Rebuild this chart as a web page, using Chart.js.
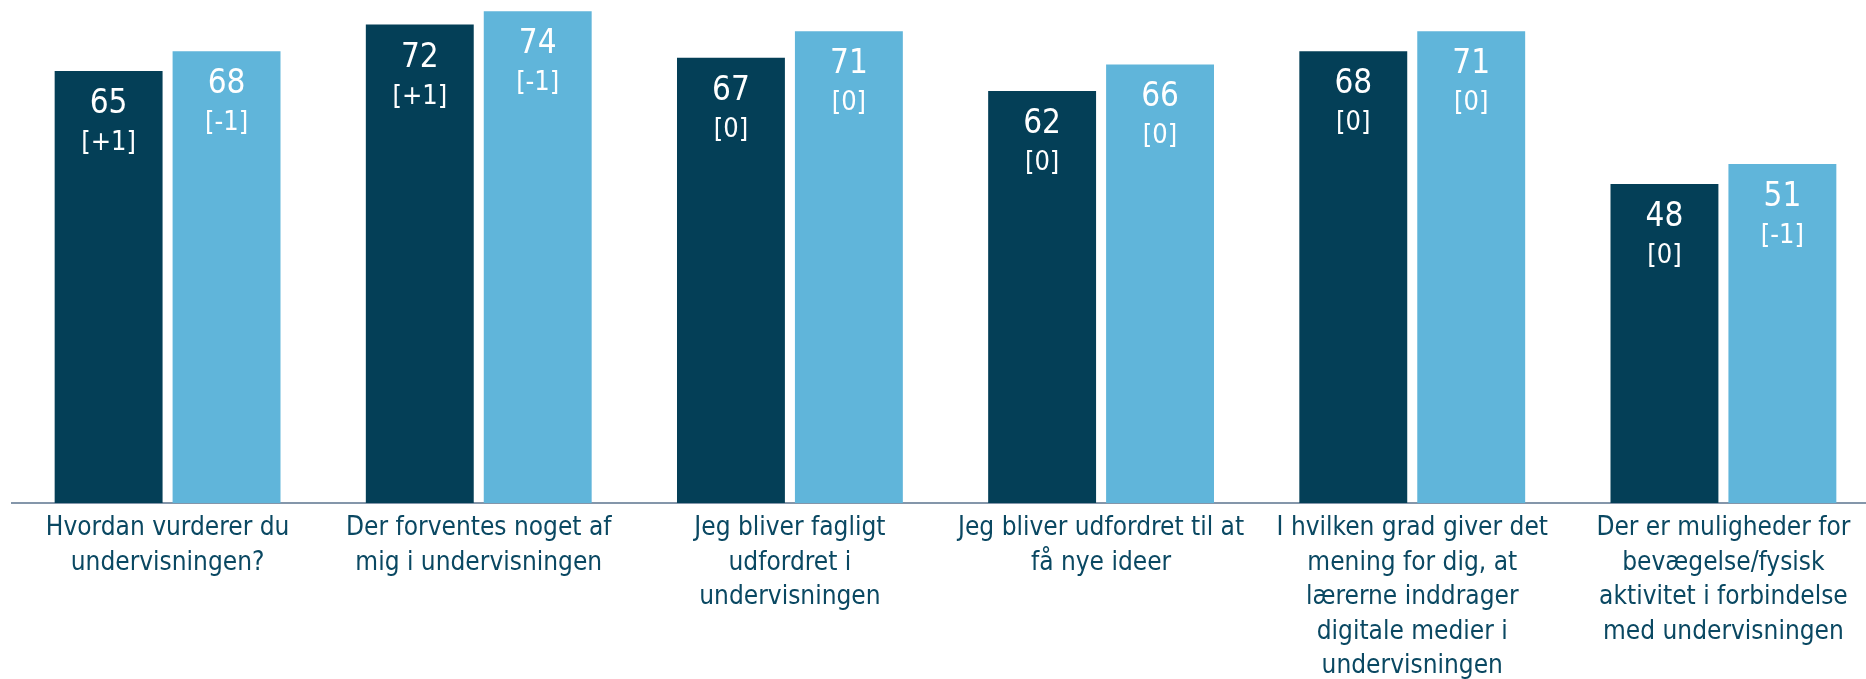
<!DOCTYPE html>
<html lang="da">
<head>
<meta charset="utf-8">
<title>Undervisning</title>
<script src="https://cdn.jsdelivr.net/npm/chart.js@4/dist/chart.umd.min.js"></script>
<style>
  html, body { margin: 0; padding: 0; background: #ffffff; overflow: hidden; }
  #ramme { width: 1866px; height: 679px; overflow: hidden; }
</style>
</head>
<body>
<div id="ramme"><canvas id="grafik" width="1880" height="679"></canvas></div>
<script>
// Spørgsmål (x-aksen), hver linje for sig
const kategorier = [
    ['Hvordan vurderer du', 'undervisningen?'],
    ['Der forventes noget af', 'mig i undervisningen'],
    ['Jeg bliver fagligt', 'udfordret i', 'undervisningen'],
    ['Jeg bliver udfordret til at', 'få nye ideer'],
    ['I hvilken grad giver det', 'mening for dig, at', 'lærerne inddrager', 'digitale medier i', 'undervisningen'],
    ['Der er muligheder for', 'bevægelse/fysisk', 'aktivitet i forbindelse', 'med undervisningen']
];

// Gennemsnit for de to serier
const vaerdierMoerk = [65, 72, 67, 62, 68, 48];
const vaerdierLys = [68, 74, 71, 66, 71, 51];

// Ændring siden sidst (vises i klammer)
const aendringMoerk = ['+1', '+1', '0', '0', '0', '0'];
const aendringLys = ['-1', '-1', '0', '0', '0', '-1'];

const yMin = 0;
const yMax = 75.7;

const farveMoerk = '#043f57';
const farveLys = '#60b5da';
const tekstFarve = '#0a4862';
const skrift = '"DejaVu Sans Condensed", "DejaVu Sans"';

// Tegner værdi og ændring inde i toppen af hver søjle
const soejleTekst = {
    id: 'soejleTekst',
    afterDatasetsDraw(chart) {
        const ctx = chart.ctx;
        ctx.save();
        ctx.fillStyle = '#ffffff';
        ctx.textAlign = 'center';
        ctx.textBaseline = 'alphabetic';
        chart.data.datasets.forEach((ds, i) => {
            const meta = chart.getDatasetMeta(i);
            meta.data.forEach((bar, j) => {
                ctx.font = '33px ' + skrift;
                ctx.fillText(String(ds.data[j]), bar.x, bar.y + 42);
                ctx.font = '27px ' + skrift;
                ctx.fillText('[' + ds.aendring[j] + ']', bar.x, bar.y + 79);
            });
        });
        ctx.restore();
    }
};

const ctx = document.getElementById('grafik').getContext('2d');
new Chart(ctx, {
    type: 'bar',
    data: {
        labels: kategorier,
        datasets: [
            {
                label: 'Serie 1',
                data: vaerdierMoerk,
                aendring: aendringMoerk,
                backgroundColor: farveMoerk,
                borderWidth: 0
            },
            {
                label: 'Serie 2',
                data: vaerdierLys,
                aendring: aendringLys,
                backgroundColor: farveLys,
                borderWidth: 0
            }
        ]
    },
    options: {
        responsive: false,
        animation: false,
        devicePixelRatio: 1,
        categoryPercentage: 0.758,
        barPercentage: 0.915,
        layout: { padding: { left: 12, right: 1, top: 0, bottom: 0 } },
        plugins: {
            legend: { display: false },
            tooltip: { enabled: false }
        },
        scales: {
            x: {
                grid: { display: false, drawTicks: false },
                border: { display: true, color: '#8496aa', width: 2 },
                ticks: {
                    color: tekstFarve,
                    font: { family: skrift, size: 26, lineHeight: '34.5px' },
                    padding: 8,
                    maxRotation: 0,
                    autoSkip: false
                },
                afterFit(scale) {
                    scale.height = 176;
                }
            },
            y: {
                display: false,
                min: yMin,
                max: yMax
            }
        }
    },
    plugins: [soejleTekst]
});
</script>
</body>
</html>
